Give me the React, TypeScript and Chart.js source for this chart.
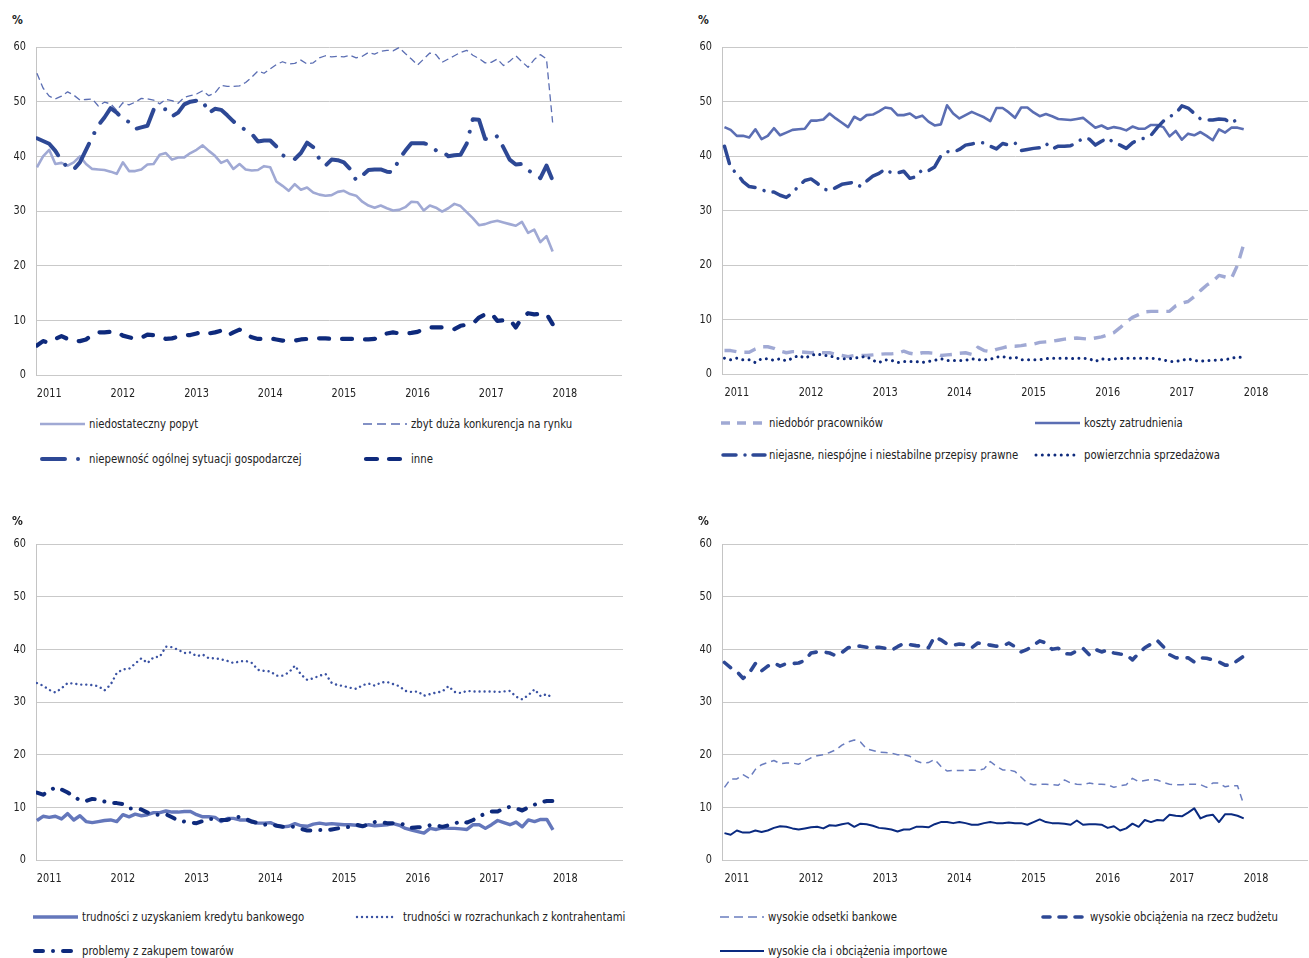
import React, { useEffect, useRef } from "react";
import { Chart, registerables } from "chart.js";

Chart.register(...registerables);

const FONT = "'DejaVu Sans Condensed', 'DejaVu Sans', sans-serif";
const TEXT = "#222222";
const SX = 0.865; // horizontal condensing of text

// Months: index 0 = Nov 2010 ... index 84 = Nov 2017
const yearLabels = ["2011", "2012", "2013", "2014", "2015", "2016", "2017", "2018"];
const yearTickIndex = [2, 14, 26, 38, 50, 62, 74, 86];
const yTickValues = [0, 10, 20, 30, 40, 50, 60];

// ---- Panel 1 ----
const niedostatecznyPopyt = [38.0,40.0,41.2,38.6,38.8,38.3,38.9,40.0,38.6,37.7,37.6,37.5,37.2,36.8,38.9,37.3,37.3,37.6,38.5,38.6,40.3,40.6,39.4,39.8,39.8,40.6,41.2,42.0,41.0,40.1,38.8,39.3,37.7,38.6,37.6,37.4,37.5,38.2,38.0,35.4,34.6,33.7,34.9,33.9,34.3,33.4,33.0,32.8,32.9,33.5,33.7,33.1,32.8,31.7,31.0,30.6,31.0,30.5,30.1,30.2,30.7,31.7,31.6,30.1,31.0,30.6,29.9,30.5,31.3,30.9,29.8,28.7,27.4,27.6,28.0,28.2,27.9,27.6,27.3,28.0,26.0,26.6,24.3,25.4,22.6];
const zbytDuzaKonkurencja = [55.2,52.5,51.0,50.5,51.0,51.8,51.2,50.3,50.4,50.5,49.2,49.9,49.6,48.4,49.8,49.4,49.9,50.6,50.5,50.3,49.6,50.4,50.2,49.7,50.8,51.1,51.4,52.0,51.1,51.6,53.0,52.8,52.8,52.9,53.5,54.5,55.6,55.2,56.0,56.8,57.3,56.9,57.0,57.6,56.9,57.1,58.0,58.4,58.2,58.3,58.2,58.5,58.0,58.3,59.0,58.7,59.2,59.4,59.3,59.9,58.8,57.8,56.7,57.8,58.9,58.6,57.2,57.8,58.4,59.0,59.4,58.5,57.9,57.1,57.2,57.8,56.6,57.4,58.4,57.3,56.3,57.7,58.6,57.8,46.2];
const niepewnosc = [43.3,42.8,42.3,41.0,39.2,38.0,37.6,38.9,41.2,43.5,45.7,47.1,48.8,48.0,46.8,46.3,45.0,45.3,45.6,48.5,48.8,48.6,47.3,48.0,49.5,50.0,50.2,50.2,47.9,48.7,48.5,47.5,46.4,45.5,44.8,44.1,42.7,42.9,42.9,41.8,40.2,39.8,39.5,40.6,42.5,41.7,39.5,38.3,39.4,39.3,38.9,37.7,35.6,36.5,37.5,37.6,37.6,37.2,37.1,39.5,41.0,42.4,42.4,42.4,42.1,41.1,41.0,40.0,40.2,40.3,42.3,46.8,46.7,43.2,43.0,43.7,41.6,39.4,38.5,38.6,37.5,36.7,36.0,38.3,35.6];
const inne = [5.4,6.2,5.9,6.6,7.1,6.6,6.2,6.2,6.5,7.3,7.8,7.8,7.9,7.9,7.2,6.9,6.6,6.8,7.4,7.3,7.0,6.6,6.7,7.0,7.3,7.3,7.6,7.9,7.6,7.8,8.1,7.2,7.8,8.3,7.5,6.9,6.6,6.6,6.7,6.5,6.3,6.3,6.3,6.5,6.6,6.7,6.7,6.7,6.6,6.6,6.6,6.6,6.6,6.5,6.5,6.6,6.9,7.6,7.8,7.6,7.6,7.7,7.9,8.4,8.7,8.7,8.7,8.7,8.4,9.0,9.2,9.4,10.5,11.1,11.3,9.9,10.0,10.2,8.7,10.5,11.3,11.1,11.2,11.2,9.3];

// ---- Panel 2 ----
const niedoborPracownikow = [4.3,4.3,4.1,4.0,4.0,4.6,5.0,5.0,4.7,4.2,3.9,4.1,4.1,4.0,3.9,4.0,3.9,3.9,3.6,3.4,3.2,3.4,3.4,3.4,3.5,3.6,3.7,3.7,3.8,4.2,3.8,3.6,3.9,3.9,3.8,3.4,3.5,3.6,3.8,3.9,3.6,4.9,4.3,4.1,4.5,4.8,5.1,5.1,5.2,5.4,5.5,5.8,5.9,6.0,6.2,6.4,6.5,6.6,6.5,6.4,6.6,6.8,7.2,7.6,8.5,9.5,10.4,10.9,11.4,11.5,11.5,11.5,11.5,12.5,13.0,13.3,14.2,15.3,16.3,17.0,18.1,17.8,17.5,20.0,23.8];
const kosztyZatrudnienia = [45.3,44.8,43.7,43.7,43.4,44.9,43.1,43.7,45.1,43.8,44.3,44.8,44.9,45.0,46.5,46.5,46.7,47.8,46.9,46.1,45.3,47.2,46.6,47.5,47.6,48.2,48.9,48.7,47.5,47.5,47.8,47.0,47.4,46.3,45.6,45.8,49.3,47.8,46.9,47.5,48.1,47.6,47.1,46.4,48.8,48.8,48.0,47.0,48.9,48.9,48.0,47.3,47.7,47.3,46.8,46.7,46.6,46.8,47.0,46.1,45.2,45.6,45.0,45.3,45.1,44.7,45.4,45.0,45.0,45.7,45.7,45.3,43.6,44.6,43.0,44.1,43.8,44.4,43.7,42.9,44.9,44.3,45.2,45.2,44.9];
const niejasnePrzepisy: (number | null)[] = [41.8,37.8,36.8,35.3,34.4,34.2,33.9,33.3,33.4,32.8,32.4,33.2,34.5,35.5,35.8,35.0,34.0,33.6,34.2,34.8,35.0,35.2,34.4,35.4,36.3,36.8,37.6,36.9,36.9,37.2,35.9,36.2,37.5,37.3,38.0,40.0,40.8,40.7,41.2,42.0,42.2,42.5,42.4,41.8,41.3,42.3,42.0,42.4,41.0,41.2,41.4,41.5,42.3,41.3,41.8,41.8,41.9,42.4,43.3,43.1,42.0,42.7,43.3,42.4,42.0,41.4,42.4,43.0,43.3,43.8,45.2,46.4,47.2,47.8,49.2,48.8,47.8,46.8,46.6,46.6,46.8,46.7,46.0,46.8,null];
const powierzchniaSprzedazowa = [2.9,2.6,2.9,2.6,2.6,2.1,2.8,2.8,2.5,2.8,2.4,2.9,3.4,2.9,3.4,3.7,3.4,3.4,2.9,2.8,2.8,2.9,3.1,3.2,2.5,2.1,2.6,2.5,2.1,2.3,2.3,2.3,2.1,2.3,2.5,2.8,2.5,2.5,2.5,2.5,2.8,2.6,2.6,2.7,3.1,3.2,2.9,3.1,2.6,2.6,2.6,2.6,2.8,2.9,2.9,2.9,2.8,2.9,2.9,2.8,2.3,2.8,2.6,2.8,2.8,2.9,2.9,2.9,2.9,2.9,2.8,2.6,2.3,2.3,2.5,2.8,2.5,2.3,2.5,2.5,2.6,2.6,2.9,3.1,3.0];

// ---- Panel 3 ----
const kredytBankowy = [7.5,8.3,8.1,8.3,7.8,8.8,7.6,8.4,7.3,7.1,7.3,7.5,7.6,7.3,8.6,8.2,8.7,8.4,8.6,9.0,9.0,9.3,9.1,9.1,9.2,9.2,8.6,8.2,8.2,8.1,7.3,7.9,7.9,7.6,7.6,7.2,7.0,7.0,7.1,6.6,6.3,6.4,6.9,6.5,6.4,6.8,7.0,6.8,6.9,6.8,6.7,6.7,6.6,6.4,6.7,6.5,6.6,6.7,6.9,6.6,6.0,5.7,5.4,5.1,6.0,5.8,6.1,6.0,6.0,5.9,5.8,6.7,6.7,6.0,6.7,7.5,7.1,6.7,7.2,6.3,7.6,7.3,7.7,7.7,5.7];
const rozrachunki = [33.6,33.1,32.3,31.8,32.6,33.6,33.5,33.3,33.3,33.2,33.0,32.2,33.3,35.5,36.2,36.3,37.3,38.3,37.4,38.5,38.6,40.5,40.4,39.9,39.3,39.4,38.7,39.0,38.3,38.3,38.1,37.8,37.4,37.7,37.8,37.4,36.1,35.9,35.8,35.0,35.0,35.6,36.9,35.2,34.2,34.5,35.0,35.3,33.6,33.2,33.0,32.7,32.5,33.2,33.5,33.1,33.7,33.8,33.4,33.0,32.1,31.9,32.0,31.2,31.5,31.8,32.0,33.0,31.9,31.7,32.1,32.0,32.0,32.0,32.0,31.9,32.0,32.1,31.0,30.5,31.3,32.4,31.1,31.5,30.7];
const zakupTowarow = [12.8,12.4,13.1,13.8,13.4,12.8,12.1,11.3,11.2,11.6,11.5,11.1,10.8,10.8,10.6,9.8,9.8,9.6,9.0,8.6,8.6,8.7,8.1,7.5,7.3,7.1,7.0,7.4,7.8,7.8,7.6,7.6,8.1,8.2,7.8,7.3,7.0,6.7,6.8,6.5,6.3,6.4,6.3,5.9,5.6,5.6,5.7,5.6,5.8,6.0,6.2,6.3,6.7,6.4,6.8,7.2,7.2,7.0,7.0,6.9,6.7,6.1,6.2,6.3,6.6,6.6,6.3,6.6,6.9,7.4,7.1,7.6,8.3,8.8,9.2,9.2,9.8,10.1,9.8,9.4,10.0,10.5,11.0,11.2,11.2];

// ---- Panel 4 ----
const odsetkiBankowe = [13.8,15.4,15.4,16.2,15.5,17.2,18.1,18.5,18.9,18.3,18.4,18.4,18.2,18.8,19.4,19.8,20.0,20.4,20.9,21.8,22.4,22.8,22.4,21.1,20.8,20.5,20.4,20.3,20.0,20.0,19.7,18.8,18.4,18.5,19.1,17.8,16.9,17.0,17.0,17.0,17.1,17.0,17.3,18.7,17.8,17.1,17.1,16.8,15.7,14.6,14.3,14.4,14.4,14.3,14.2,15.2,14.6,14.4,14.3,14.6,14.4,14.4,14.3,13.8,14.1,14.3,15.5,14.9,15.1,15.3,15.2,14.7,14.4,14.3,14.3,14.4,14.4,14.3,13.8,14.6,14.6,13.9,14.1,14.1,10.5];
const obciazeniaBudzet = [37.5,36.5,35.8,34.5,35.5,37.3,35.9,36.8,37.4,36.8,37.3,37.3,37.4,37.9,39.3,39.5,39.5,39.3,38.8,39.4,40.3,40.6,40.6,40.4,40.3,40.4,40.2,39.8,40.5,41.1,40.9,40.7,40.6,40.3,42.4,41.8,41.0,40.8,41.0,40.9,40.3,41.2,41.0,40.8,40.6,40.6,41.2,40.5,39.5,40.0,40.8,41.6,41.2,40.0,40.2,39.2,39.1,39.7,40.2,39.0,40.0,39.5,39.9,39.3,39.1,39.0,38.0,39.2,40.3,41.0,41.7,40.5,39.0,38.4,38.3,38.4,37.6,38.4,38.3,38.0,37.6,37.0,37.0,37.9,38.7];
const claImportowe = [5.1,4.8,5.6,5.2,5.2,5.6,5.3,5.6,6.1,6.4,6.3,6.0,5.8,6.0,6.2,6.3,6.0,6.6,6.5,6.8,7.0,6.3,6.9,6.8,6.5,6.1,6.0,5.8,5.4,5.8,5.8,6.3,6.3,6.2,6.8,7.2,7.2,7.0,7.2,7.0,6.7,6.7,7.0,7.2,7.0,7.0,7.1,7.0,7.0,6.7,7.2,7.7,7.2,7.0,7.0,6.9,6.7,7.5,6.7,6.8,6.8,6.7,6.1,6.4,5.6,6.0,6.9,6.3,7.6,7.2,7.6,7.5,8.6,8.4,8.3,9.0,9.8,7.9,8.4,8.6,7.2,8.7,8.7,8.4,7.9];

// ---- styles ----
const C_LIGHT = "#a0a9d4";
const C_MID = "#5b6eb3";
const C_DARK = "#2d4895";
const C_NAVY = "#0e2a7c";
const C_DOT = "#3a52a3";

type Series = {
  label: string;
  data: (number | null)[];
  color: string;
  width: number;
  dash: number[];
  cap: "butt" | "round";
  legendDash?: number[];
};

type LegendItem = { s: Series; x1: number; x2: number; tx: number; y: number };

type PanelCfg = {
  canvas: { left: number; top: number; width: number; height: number };
  plot: { left: number; right: number; top: number; bottom: number };
  xMin: number;
  xMax: number;
  pct: { x: number; y: number };
  series: Series[];
  legend: LegendItem[];
};

const sPopyt: Series = { label: "niedostateczny popyt", data: niedostatecznyPopyt, color: C_LIGHT, width: 2.6, dash: [], cap: "butt" };
const sKonk: Series = { label: "zbyt duża konkurencja na rynku", data: zbytDuzaKonkurencja, color: C_MID, width: 1.3, dash: [7, 4], cap: "butt", legendDash: [9, 5] };
const sNiep: Series = { label: "niepewność ogólnej sytuacji gospodarczej", data: niepewnosc, color: C_DARK, width: 4, dash: [28, 12, 0.01, 12], cap: "round", legendDash: [23, 13, 0.01, 13] };
const sInne: Series = { label: "inne", data: inne, color: C_NAVY, width: 4.2, dash: [10, 13], cap: "round", legendDash: [11, 12] };

const sNiedobor: Series = { label: "niedobór pracowników", data: niedoborPracownikow, color: C_LIGHT, width: 3.4, dash: [12, 8], cap: "butt", legendDash: [9, 7] };
const sKoszty: Series = { label: "koszty zatrudnienia", data: kosztyZatrudnienia, color: C_MID, width: 2.6, dash: [], cap: "butt" };
const sNiejasne: Series = { label: "niejasne, niespójne i niestabilne przepisy prawne", data: niejasnePrzepisy, color: C_DARK, width: 3.5, dash: [18, 9.5, 0.01, 9.5], cap: "round", legendDash: [13, 9, 0.01, 8] };
const sPow: Series = { label: "powierzchnia sprzedażowa", data: powierzchniaSprzedazowa, color: C_NAVY, width: 3, dash: [0.01, 6.3], cap: "round" };

const sKredyt: Series = { label: "trudności z uzyskaniem kredytu bankowego", data: kredytBankowy, color: "#6477bb", width: 3.4, dash: [], cap: "butt" };
const sRozr: Series = { label: "trudności w rozrachunkach z kontrahentami", data: rozrachunki, color: C_DOT, width: 2.4, dash: [0.01, 5], cap: "round" };
const sZakup: Series = { label: "problemy z zakupem towarów", data: zakupTowarow, color: C_NAVY, width: 4, dash: [8, 10, 0.01, 10], cap: "round" };

const sOdsetki: Series = { label: "wysokie odsetki bankowe", data: odsetkiBankowe, color: "#6a7dbf", width: 1.5, dash: [7, 5], cap: "butt", legendDash: [9, 5] };
const sBudzet: Series = { label: "wysokie obciążenia na rzecz budżetu", data: obciazeniaBudzet, color: C_DARK, width: 3.6, dash: [8, 10], cap: "round", legendDash: [7, 9] };
const sCla: Series = { label: "wysokie cła i obciążenia importowe", data: claImportowe, color: "#0a2a80", width: 2, dash: [], cap: "butt" };

const panels: PanelCfg[] = [
  {
    canvas: { left: 0, top: 30, width: 645, height: 380 },
    plot: { left: 36, right: 622, top: 47, bottom: 375 },
    xMin: -0.15, xMax: 95.3,
    pct: { x: 12, y: 13 },
    series: [sNiep, sInne, sKonk, sPopyt],
    legend: [
      { s: sPopyt, x1: 40, x2: 85, tx: 89, y: 424 },
      { s: sKonk, x1: 363, x2: 407, tx: 411, y: 424 },
      { s: sNiep, x1: 42, x2: 85, tx: 89, y: 459 },
      { s: sInne, x1: 366, x2: 402, tx: 411, y: 459 },
    ],
  },
  {
    canvas: { left: 680, top: 30, width: 640, height: 380 },
    plot: { left: 722, right: 1308, top: 47, bottom: 374 },
    xMin: -0.4, xMax: 94.4,
    pct: { x: 698, y: 13 },
    series: [sNiejasne, sKoszty, sPow, sNiedobor],
    legend: [
      { s: sNiedobor, x1: 721, x2: 765, tx: 769, y: 423 },
      { s: sKoszty, x1: 1035, x2: 1080, tx: 1084, y: 423 },
      { s: sNiejasne, x1: 723, x2: 765, tx: 769, y: 455 },
      { s: sPow, x1: 1036, x2: 1077, tx: 1084, y: 455 },
    ],
  },
  {
    canvas: { left: 0, top: 525, width: 645, height: 370 },
    plot: { left: 36, right: 623, top: 544, bottom: 860 },
    xMin: -0.15, xMax: 95.4,
    pct: { x: 12, y: 514 },
    series: [sZakup, sKredyt, sRozr],
    legend: [
      { s: sKredyt, x1: 33, x2: 78, tx: 82, y: 917 },
      { s: sRozr, x1: 357, x2: 397, tx: 403, y: 917 },
      { s: sZakup, x1: 35, x2: 72, tx: 82, y: 951 },
    ],
  },
  {
    canvas: { left: 680, top: 525, width: 640, height: 370 },
    plot: { left: 722, right: 1308, top: 544, bottom: 860 },
    xMin: -0.4, xMax: 94.4,
    pct: { x: 698, y: 514 },
    series: [sCla, sBudzet, sOdsetki],
    legend: [
      { s: sOdsetki, x1: 720, x2: 764, tx: 768, y: 917 },
      { s: sBudzet, x1: 1043, x2: 1086, tx: 1090, y: 917 },
      { s: sCla, x1: 720, x2: 764, tx: 768, y: 951 },
    ],
  },
];

// Draws the axis tick labels (from the chart's own scales) in a condensed face.
const condensedTicks = {
  id: "condensedTicks",
  afterDraw(chart: any) {
    const ctx: CanvasRenderingContext2D = chart.ctx;
    const xs = chart.scales.x;
    const ys = chart.scales.y;
    const area = chart.chartArea;
    ctx.save();
    ctx.fillStyle = TEXT;
    ctx.font = `12.5px ${FONT}`;
    ctx.textBaseline = "middle";
    yearTickIndex.forEach((v, k) => {
      const px = xs.getPixelForValue(v);
      ctx.save();
      ctx.translate(px, area.bottom + 18.5);
      ctx.scale(SX, 1);
      ctx.textAlign = "center";
      ctx.fillText(yearLabels[k], 0, 0);
      ctx.restore();
    });
    yTickValues.forEach((v) => {
      const py = ys.getPixelForValue(v);
      ctx.save();
      ctx.translate(area.left - 10, py);
      ctx.scale(SX, 1);
      ctx.textAlign = "right";
      ctx.fillText(String(v), 0, 0);
      ctx.restore();
    });
    ctx.restore();
  },
};

function Panel({ cfg }: { cfg: PanelCfg }) {
  const ref = useRef<HTMLCanvasElement>(null);
  useEffect(() => {
    const c = cfg.canvas;
    const p = cfg.plot;
    const chart = new Chart(ref.current as HTMLCanvasElement, {
      type: "line",
      data: {
        datasets: cfg.series.map((s) => ({
          label: s.label,
          data: s.data.map((v, i) => ({ x: i, y: v })),
          borderColor: s.color,
          backgroundColor: s.color,
          borderWidth: s.width,
          borderDash: s.dash,
          borderCapStyle: s.cap,
          borderJoinStyle: "round",
          pointRadius: 0,
          tension: 0,
          fill: false,
          spanGaps: false,
        })),
      },
      plugins: [condensedTicks],
      options: {
        animation: false,
        responsive: false,
        maintainAspectRatio: false,
        events: [],
        layout: {
          padding: {
            top: p.top - c.top,
            right: c.left + c.width - p.right,
            left: 0,
            bottom: 0,
          },
        },
        plugins: { legend: { display: false }, tooltip: { enabled: false }, title: { display: false } },
        scales: {
          x: {
            type: "linear",
            min: cfg.xMin,
            max: cfg.xMax,
            afterFit: (s: any) => {
              s.height = c.top + c.height - p.bottom;
            },
            afterBuildTicks: (s: any) => {
              s.ticks = yearTickIndex.map((v) => ({ value: v }));
            },
            grid: { display: false, drawTicks: false },
            border: { display: false },
            ticks: { display: false },
          },
          y: {
            min: 0,
            max: 60,
            afterFit: (s: any) => {
              s.width = p.left - c.left;
            },
            afterBuildTicks: (s: any) => {
              s.ticks = yTickValues.map((v) => ({ value: v }));
            },
            grid: { color: "#c9c9c9", lineWidth: 1, drawTicks: false },
            border: { display: true, color: "#c4c4c4", width: 1 },
            ticks: { display: false },
          },
        },
      },
    } as any);
    return () => chart.destroy();
  }, [cfg]);

  return (
    <>
      <canvas
        ref={ref}
        width={cfg.canvas.width}
        height={cfg.canvas.height}
        style={{
          position: "absolute",
          left: cfg.canvas.left,
          top: cfg.canvas.top,
          width: cfg.canvas.width,
          height: cfg.canvas.height,
        }}
      />
      <div
        style={{
          position: "absolute",
          left: cfg.pct.x,
          top: cfg.pct.y,
          fontSize: 12,
          fontWeight: "bold",
          color: TEXT,
          lineHeight: "14px",
        }}
      >
        %
      </div>
      {cfg.legend.map((li, k) => {
        const w = li.x2 - li.x1;
        const d = li.s.legendDash || li.s.dash;
        return (
          <React.Fragment key={k}>
            <svg
              width={w + 8}
              height={12}
              style={{ position: "absolute", left: li.x1 - 4, top: li.y - 6 }}
            >
              <line
                x1={4}
                y1={6}
                x2={w + 4}
                y2={6}
                stroke={li.s.color}
                strokeWidth={li.s.width}
                strokeDasharray={d.length ? d.join(" ") : undefined}
                strokeLinecap={li.s.cap}
              />
            </svg>
            <div
              style={{
                position: "absolute",
                left: li.tx,
                top: li.y - 9,
                fontSize: 13,
                lineHeight: "18px",
                color: TEXT,
                whiteSpace: "nowrap",
                transform: `scaleX(${SX})`,
                transformOrigin: "left center",
              }}
            >
              {li.s.label}
            </div>
          </React.Fragment>
        );
      })}
    </>
  );
}

export default function App() {
  return (
    <div
      style={{
        position: "absolute",
        left: 0,
        top: 0,
        width: 1309,
        height: 958,
        overflow: "hidden",
        background: "#ffffff",
        fontFamily: FONT,
      }}
    >
      {panels.map((cfg, i) => (
        <Panel key={i} cfg={cfg} />
      ))}
    </div>
  );
}
